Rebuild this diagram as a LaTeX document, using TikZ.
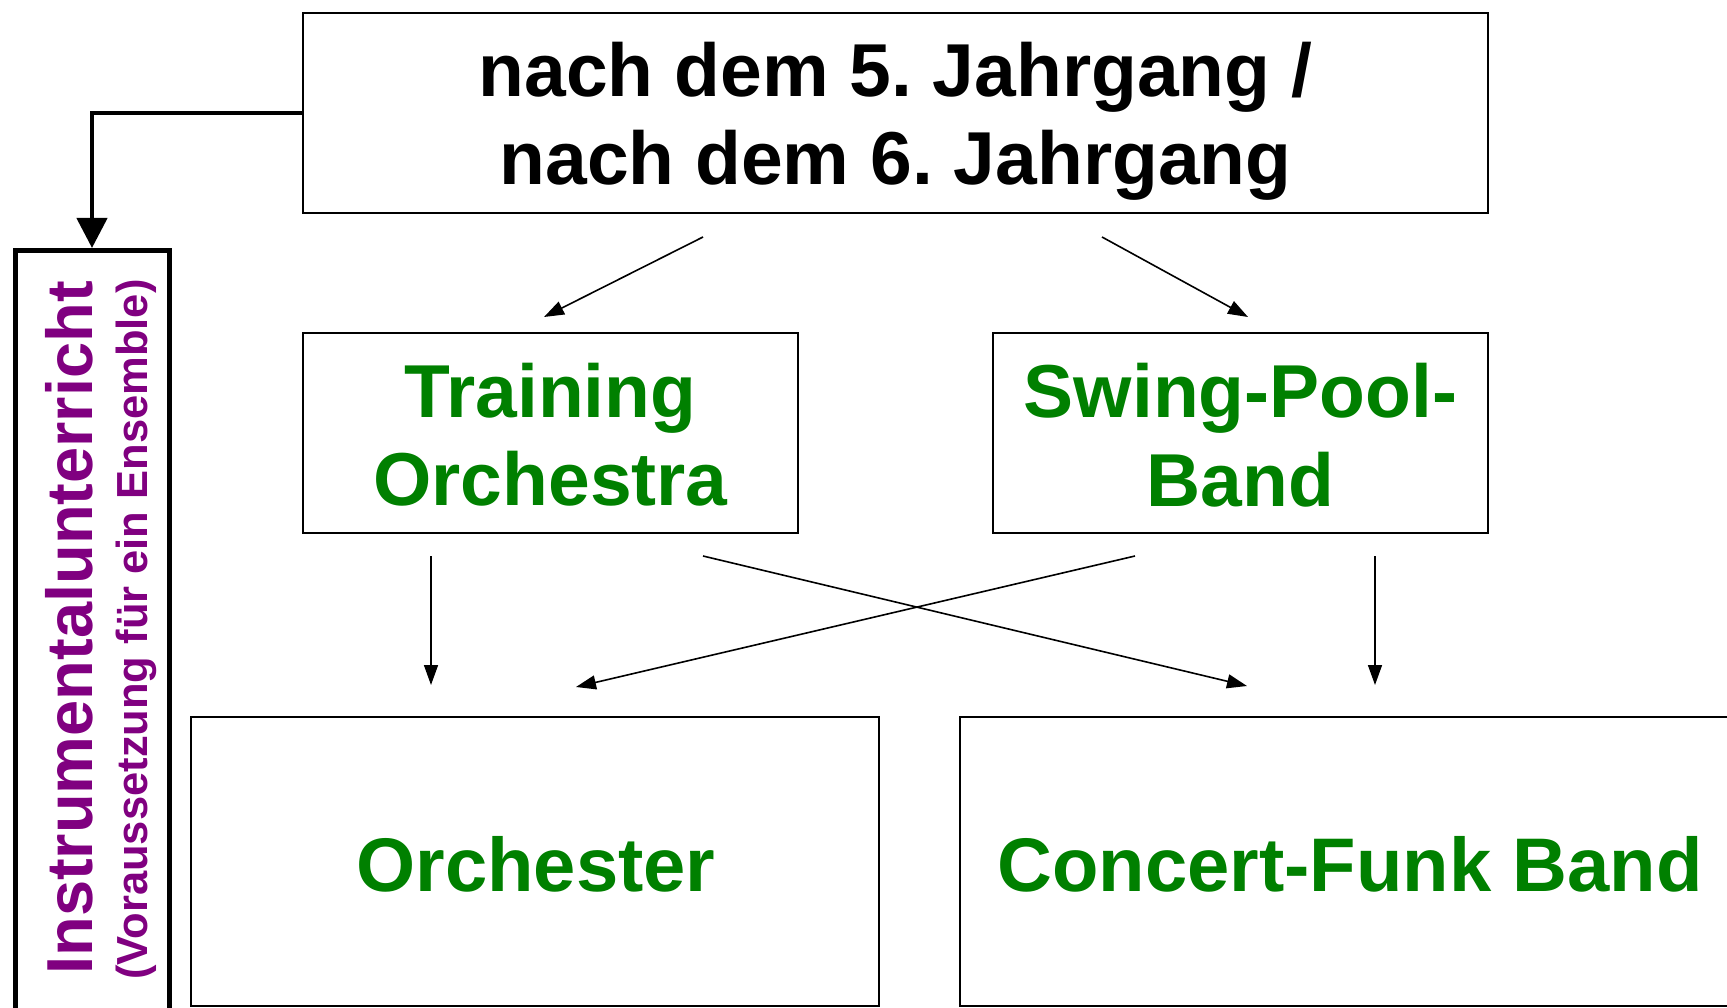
\documentclass[tikz,border=0pt]{standalone}
\usepackage{fontspec}
\setmainfont{Liberation Sans}
\usetikzlibrary{arrows.meta}
\definecolor{grn}{RGB}{0,128,0}
\definecolor{prp}{RGB}{128,0,128}
\frenchspacing
\tikzset{
  box/.style={draw=black, line width=2pt, rectangle, inner sep=0pt},
  thickbox/.style={draw=black, line width=5pt, rectangle, inner sep=0pt},
  bigtxt/.style={font=\fontsize{75}{90}\selectfont\bfseries, anchor=base, inner sep=0pt},
  greentxt/.style={bigtxt, text=grn},
  greenbig/.style={font=\fontsize{76}{90}\selectfont\bfseries, anchor=base, inner sep=0pt, text=grn},
  purpbig/.style={font=\fontsize{65}{78}\selectfont\bfseries, anchor=base, inner sep=0pt, text=prp, rotate=90},
  purpsmall/.style={font=\fontsize{43.5}{52}\selectfont\bfseries, anchor=base, inner sep=0pt, text=prp, rotate=90},
  arr/.style={line width=1.6pt, -{Triangle[length=20pt,width=14pt]}},
  bigarr/.style={line width=4.5pt, -{Triangle[length=30pt,width=30pt]}}
}
\begin{document}
\begin{tikzpicture}[x=1pt,y=-1pt]
\useasboundingbox (0,0) rectangle (1727,1008);
\clip (0,0) rectangle (1727,1008);
\fill[white] (0,0) rectangle (1727,1008);

% boxes
\node[box, minimum width=1185pt, minimum height=200pt] (top) at (895.5,113) {};
\node[box, minimum width=495pt, minimum height=200pt] (train) at (550.5,433) {};
\node[box, minimum width=495pt, minimum height=200pt] (swing) at (1240.5,433) {};
\node[box, minimum width=688pt, minimum height=289pt] (orch) at (535,861.5) {};
\node[box, minimum width=782pt, minimum height=289pt] (funk) at (1351,861.5) {};
\node[thickbox, minimum width=154pt, minimum height=849.5pt] (instr) at (92,675.25) {};

% texts
\node[bigtxt] (t1) at (895.5,97) {nach dem 5. Jahrgang /};
\node[bigtxt] (t2) at (895.5,185) {nach dem 6. Jahrgang};
\node[greentxt] (tr1) at (550.5,417) {Training};
\node[greentxt] (tr2) at (550.5,505) {Orchestra};
\node[greentxt] (sw1) at (1240.5,417) {Swing-Pool-};
\node[greentxt] (sw2) at (1240.5,506) {Band};
\node[greenbig] (ort) at (536,891) {Orchester};
\node[greenbig] (fkt) at (1350,891) {Concert-Funk Band};
\node[purpbig] (it1) at (92,628) {Instrumentalunterricht};
\node[purpsmall] (it2) at (147,629.5) {(Voraussetzung für ein Ensemble)};

% arrow end points
\coordinate (a1s) at (703,237);  \coordinate (a1e) at (544,317);
\coordinate (a2s) at (1102,237); \coordinate (a2e) at (1248,317);
\coordinate (a3s) at (431,556);  \coordinate (a3e) at (431,685);
\coordinate (a4s) at (703,556);  \coordinate (a4e) at (1247,686);
\coordinate (a5s) at (1135,556); \coordinate (a5e) at (576,687);
\coordinate (a6s) at (1375,556); \coordinate (a6e) at (1375,685);

\draw[arr] (a1s) -- (a1e);
\draw[arr] (a2s) -- (a2e);
\draw[arr] (a3s) -- (a3e);
\draw[arr] (a4s) -- (a4e);
\draw[arr] (a5s) -- (a5e);
\draw[arr] (a6s) -- (a6e);

\draw[bigarr] (top.west) -| (instr.north);
\end{tikzpicture}
\end{document}
